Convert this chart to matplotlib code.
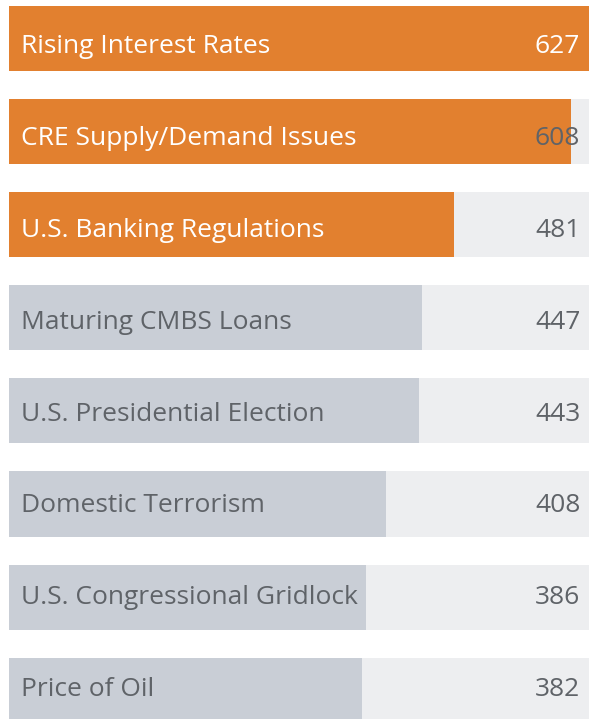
import matplotlib.pyplot as plt

labels = ['Rising Interest Rates', 'CRE Supply/Demand Issues', 'U.S. Banking Regulations',
          'Maturing CMBS Loans', 'U.S. Presidential Election', 'Domestic Terrorism',
          'U.S. Congressional Gridlock', 'Price of Oil']
values = [627, 608, 481, 447, 443, 408, 386, 382]
highlight = [True, True, True, False, False, False, False, False]

ORANGE = '#E2802F'
GREY_BAR = '#C9CED6'
TRACK = '#EDEEF0'
TEXT_GREY = '#5F6368'

plt.rcParams['font.family'] = ['Open Sans', 'DejaVu Sans']

W, H = 589, 719
fig = plt.figure(figsize=(W / 100, H / 100), dpi=100)
ax = fig.add_axes([9 / W, 0, 580 / W, 1])

pitch = 93.1
top = -38.5 / pitch
ax.set_ylim(top + H / pitch, top)
xmax = max(values)
ax.set_xlim(0, xmax)

ys = list(range(len(labels)))
ax.barh(ys, [xmax] * len(ys), height=0.70, color=TRACK, linewidth=0)
colors = [ORANGE if h else GREY_BAR for h in highlight]
ax.barh(ys, values, height=0.70, color=colors, linewidth=0)

# text baseline sits below bar centre, drifting up slightly further down
for y, lab, v, h in zip(ys, labels, values, highlight):
    base = (14.5 - 1.2 * y) / pitch
    c = 'white' if h else TEXT_GREY
    ax.text(xmax * 0.0207, y + base, lab, color=c, fontsize=19, va='baseline', ha='left')
    vc = 'white' if (h and v == xmax) else TEXT_GREY
    ax.text(xmax * 0.985, y + base, str(v), color=vc, fontsize=19, va='baseline', ha='right')

ax.axis('off')
fig.savefig('out.png', dpi=100)
